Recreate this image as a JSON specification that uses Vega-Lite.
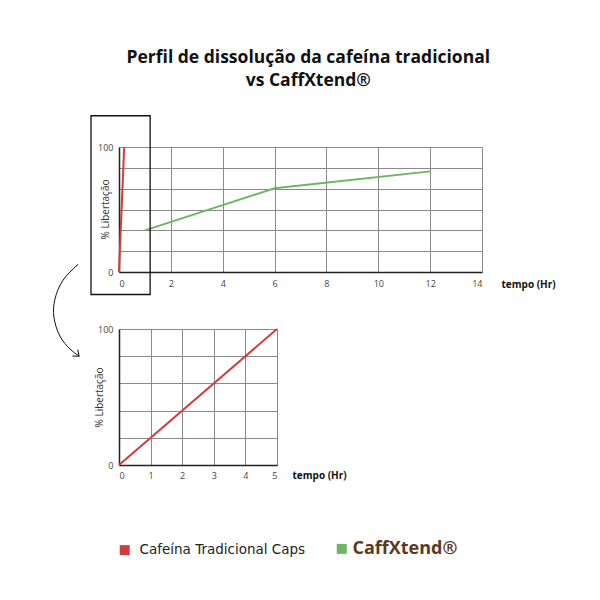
{
  "$schema": "https://vega.github.io/schema/vega-lite/v6.json",
  "background": "white",
  "padding": {"left": 51, "top": 48, "right": 5, "bottom": 5},
  "title": {
    "text": ["Perfil de dissolução da cafeína tradicional", "vs CaffXtend®"],
    "font": "Open Sans",
    "fontSize": 17.5,
    "fontWeight": "bold",
    "color": "#111111",
    "anchor": "middle",
    "lineHeight": 23,
    "offset": 26,
    "dx": 5
  },
  "config": {
    "view": {"stroke": null},
    "font": "Open Sans",
    "axis": {
      "ticks": false,
      "gridColor": "#8a8a8a",
      "gridWidth": 1,
      "gridOpacity": 1,
      "domainColor": "#222222",
      "domainWidth": 1.5,
      "labelFont": "Open Sans",
      "labelFontSize": 9,
      "labelColor": "#444444"
    }
  },
  "datasets": {
    "topo": [
      {"t": 0, "pct": 0, "serie": "Cafeína Tradicional Caps"},
      {"t": 0.2, "pct": 100, "serie": "Cafeína Tradicional Caps"},
      {"t": 1, "pct": 33.3, "serie": "CaffXtend®"},
      {"t": 6, "pct": 67, "serie": "CaffXtend®"},
      {"t": 12, "pct": 80.5, "serie": "CaffXtend®"}
    ],
    "baixo": [
      {"t": 0, "pct": 0, "serie": "Cafeína Tradicional Caps"},
      {"t": 5, "pct": 100, "serie": "Cafeína Tradicional Caps"}
    ],
    "caixa": [
      {"t": -1.08, "t2": 1.2, "pct": 125, "pct2": -18}
    ],
    "seta": [
      {"i": 1, "t": -1.58, "pct": 6.1},
      {"i": 2, "t": -2.16, "pct": -6.6},
      {"i": 3, "t": -2.47, "pct": -21.7},
      {"i": 4, "t": -2.51, "pct": -36.1},
      {"i": 5, "t": -2.28, "pct": -51.2},
      {"i": 6, "t": -1.89, "pct": -61.6},
      {"i": 7, "t": -1.54, "pct": -67.2}
    ],
    "ponta": [
      {"t": -1.54, "pct": -67.4}
    ]
  },
  "bounds": "flush",
  "spacing": 57,
  "resolve": {"scale": {"color": "shared"}},
  "vconcat": [
    {
      "width": 363,
      "height": 125,
      "encoding": {
        "x": {
          "field": "t", "type": "quantitative",
          "scale": {"domain": [0, 14], "nice": false, "zero": false},
          "axis": {
            "values": [0, 2, 4, 6, 8, 10, 12, 14],
            "labelPadding": 7,
            "title": "tempo (Hr)",
            "titleFontWeight": "bold",
            "titleFontSize": 10,
            "titleColor": "#111111",
            "titleX": 382,
            "titleY": 12,
            "titleAlign": "left",
            "titleBaseline": "middle"
          }
        },
        "y": {
          "field": "pct", "type": "quantitative",
          "scale": {"domain": [0, 100], "nice": false, "zero": false},
          "axis": {
            "values": [0, 16.6667, 33.3333, 50, 66.6667, 83.3333, 100],
            "labelExpr": "datum.value == 0 || datum.value == 100 ? datum.label : ''",
            "labelOverlap": false,
            "labelPadding": 6,
            "title": "% Libertação",
            "titleFontWeight": "normal",
            "titleFontSize": 10,
            "titleColor": "#333333",
            "titleX": -14,
            "titleY": 62,
            "titleAngle": -90,
            "titleAlign": "center",
            "titleBaseline": "middle"
          }
        }
      },
      "layer": [
        {
          "data": {"name": "topo"},
          "mark": {"type": "line", "strokeWidth": 2, "clip": false},
          "encoding": {
            "color": {
              "field": "serie", "type": "nominal",
              "scale": {"domain": ["Cafeína Tradicional Caps", "CaffXtend®"], "range": ["#d23c3c", "#6db562"]},
              "legend": {
                "title": null,
                "orient": "none",
                "direction": "horizontal",
                "legendX": -1,
                "legendY": 395,
                "padding": 0,
                "symbolType": "square",
                "symbolSize": 100,
                "labelOffset": 8,
                "columnPadding": 29,
                "labelFont": "DejaVu Sans",
                "labelFontSize": 13.5,
                "labelColor": "#222222",
                "labelLimit": 400,
                "encode": {
                  "symbols": {"update": {"fill": {"scale": "color", "field": "value"}, "strokeWidth": {"value": 0}, "opacity": {"value": 1}}},
                  "labels": {"update": {
                    "fill": {"signal": "datum.label == 'CaffXtend®' ? '#5b3a20' : '#222222'"},
                    "fontSize": {"signal": "datum.label == 'CaffXtend®' ? 18 : 13.5"},
                    "font": {"signal": "datum.label == 'CaffXtend®' ? 'Open Sans' : 'DejaVu Sans'"},
                    "fontWeight": {"signal": "datum.label == 'CaffXtend®' ? 'bold' : 'normal'"},
                    "dx": {"signal": "datum.label == 'CaffXtend®' ? -4 : 0"}
                  }}
                }
              }
            }
          }
        },
        {
          "data": {"name": "caixa"},
          "mark": {"type": "rect", "fill": null, "fillOpacity": 0, "stroke": "#111111", "strokeWidth": 1.3, "clip": false},
          "encoding": {
            "x2": {"field": "t2"},
            "y2": {"field": "pct2"}
          }
        },
        {
          "data": {"name": "seta"},
          "mark": {"type": "line", "stroke": "#111111", "strokeWidth": 1, "interpolate": "natural", "clip": false},
          "encoding": {
            "order": {"field": "i", "type": "quantitative"}
          }
        },
        {
          "data": {"name": "ponta"},
          "mark": {"type": "point", "shape": "M-0.8,1L0,0L0.8,1", "filled": false, "stroke": "#111111", "strokeWidth": 1, "size": 110, "angle": 130, "opacity": 1, "clip": false},
          "encoding": {}
        }
      ]
    },
    {
      "width": 158,
      "height": 136,
      "data": {"name": "baixo"},
      "mark": {"type": "line", "strokeWidth": 2},
      "encoding": {
        "x": {
          "field": "t", "type": "quantitative",
          "scale": {"domain": [0, 5], "nice": false},
          "axis": {
            "values": [0, 1, 2, 3, 4, 5],
            "labelPadding": 6,
            "title": "tempo (Hr)",
            "titleFontWeight": "bold",
            "titleFontSize": 10,
            "titleColor": "#111111",
            "titleX": 173,
            "titleY": 10,
            "titleAlign": "left",
            "titleBaseline": "middle"
          }
        },
        "y": {
          "field": "pct", "type": "quantitative",
          "scale": {"domain": [0, 100], "nice": false},
          "axis": {
            "values": [0, 20, 40, 60, 80, 100],
            "labelExpr": "datum.value == 0 || datum.value == 100 ? datum.label : ''",
            "labelPadding": 6,
            "title": "% Libertação",
            "titleFontWeight": "normal",
            "titleFontSize": 10,
            "titleColor": "#333333",
            "titleX": -20,
            "titleY": 68,
            "titleAngle": -90,
            "titleAlign": "center",
            "titleBaseline": "middle"
          }
        },
        "color": {
          "field": "serie", "type": "nominal",
          "scale": {"domain": ["Cafeína Tradicional Caps", "CaffXtend®"], "range": ["#d23c3c", "#6db562"]},
          "legend": null
        }
      }
    }
  ]
}
